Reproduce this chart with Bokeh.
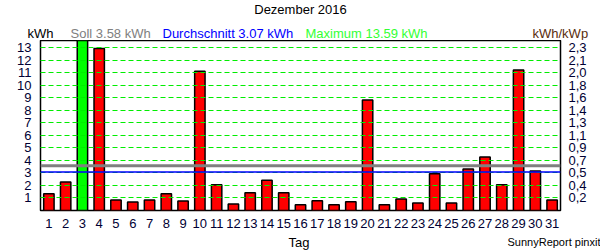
from bokeh.plotting import figure
from bokeh.layouts import column, row
from bokeh.models import (ColumnDataSource, Range1d, LinearAxis, FixedTicker,
                          Span, Label)
from bokeh.embed import file_html
from bokeh.resources import INLINE

# ---- data ----
days = list(range(1, 32))
kwh = [1.34, 2.28, 13.59, 12.95, 0.84, 0.68, 0.84, 1.34, 0.76, 11.13,
       2.06, 0.52, 1.42, 2.42, 1.42, 0.46, 0.78, 0.46, 0.70, 8.84,
       0.46, 0.92, 0.60, 2.94, 0.60, 3.32, 4.28, 2.06, 11.24, 3.16, 0.84]
soll = 3.58
average = 3.07
maximum = 13.59
left_ticks = list(range(1, 14))
right_tick_labels = ["0,2", "0,4", "0,5", "0,7", "0,9", "1,1", "1,3",
                     "1,4", "1,6", "1,8", "2,0", "2,1", "2,3"]
title_text = "Dezember 2016"
x_title = "Tag"
credit = "SunnyReport pinxit"

FONT = "Liberation Sans"
W = 600
HEAD_H, MAIN_H, FOOT_H = 40, 194, 16
FOOT_TOP = HEAD_H + MAIN_H
SHIFT = 4  # label baseline correction observed in rendering

def text_panel(h):
    f = figure(width=W, height=h, output_backend="svg", toolbar_location=None,
               title=None,
               x_range=Range1d(0, W), y_range=Range1d(0, h),
               x_axis_type=None, y_axis_type=None,
               min_border=0, min_border_left=0, min_border_right=0,
               min_border_top=0, min_border_bottom=0)
    f.outline_line_color = None
    f.background_fill_color = "white"
    f.border_fill_color = "white"
    return f

def lab(f, top, h, cx, baseline, text, color="black", size="13px", align="left"):
    f.add_layout(Label(x=cx, y=top + h - (baseline - SHIFT), text=text,
                       text_font=FONT, text_font_size=size, text_color=color,
                       text_align=align, text_baseline="alphabetic"))

# ---- header ----
head = text_panel(HEAD_H)
lab(head, 0, HEAD_H, 300, 13, title_text, align="center")
lab(head, 0, HEAD_H, 27, 37, "kWh")
lab(head, 0, HEAD_H, 70, 37, f"Soll {soll:.2f} kWh", color="#808080")
lab(head, 0, HEAD_H, 162, 37, f"Durchschnitt {average:.2f} kWh", color="#0000ff")
lab(head, 0, HEAD_H, 305, 37, f"Maximum {maximum:.2f} kWh", color="#33ff33")
lab(head, 0, HEAD_H, 532, 37, "kWh/kWp", color="#5a2d0c")

# ---- main chart ----
colors = ["#00ff00" if v == max(kwh) else "#ff0000" for v in kwh]
src = ColumnDataSource(dict(day=days, kwh=kwh, color=colors))

p = figure(width=W, height=MAIN_H, output_backend="svg", toolbar_location=None,
           title=None,
           x_range=Range1d(0.5, len(days) + 0.5), y_range=Range1d(0, maximum),
           min_border_left=40, min_border_right=40, min_border_top=0,
           min_border_bottom=24)
p.background_fill_color = "white"
p.border_fill_color = "white"
p.outline_line_color = "black"
p.outline_line_width = 1.5

p.vbar(x="day", top="kwh", width=0.62, source=src, fill_color="color",
       line_color="black", line_width=1.5)

for ax in (p.xaxis[0], p.yaxis[0]):
    ax.axis_line_color = None
    ax.major_tick_line_color = None
    ax.minor_tick_line_color = None
    ax.major_label_text_font = FONT
    ax.major_label_text_font_size = "13px"
    ax.major_label_text_color = "#000033"
p.xaxis.ticker = FixedTicker(ticks=days)
p.xaxis.major_label_standoff = 2
p.yaxis.ticker = FixedTicker(ticks=left_ticks)
p.yaxis.major_label_standoff = 3

right = LinearAxis(ticker=FixedTicker(ticks=left_ticks),
                   major_label_overrides={t: l for t, l in zip(left_ticks, right_tick_labels)})
right.axis_line_color = None
right.major_tick_line_color = None
right.minor_tick_line_color = None
right.major_label_text_font = FONT
right.major_label_text_font_size = "13px"
right.major_label_text_color = "#000033"
right.major_label_standoff = 2
p.add_layout(right, "right")

p.xgrid.visible = False
p.ygrid.ticker = FixedTicker(ticks=left_ticks)
p.ygrid.grid_line_color = "#00ee00"
p.ygrid.grid_line_dash = "5 3"
p.ygrid.grid_line_width = 1.2
p.ygrid.level = "overlay"

p.add_layout(Span(location=soll, dimension="width", line_color="#808080",
                  line_width=3, level="overlay"))
p.add_layout(Span(location=average, dimension="width", line_color="#0000ff",
                  line_width=1.5, level="overlay"))

# ---- footer ----
foot = text_panel(FOOT_H)
lab(foot, FOOT_TOP, FOOT_H, 288, 246, x_title)
lab(foot, FOOT_TOP, FOOT_H, 507, 245, credit, size="11px")

layout = column(row(head), p, row(foot), spacing=0)
open("out.html", "w").write(file_html(layout, INLINE))
